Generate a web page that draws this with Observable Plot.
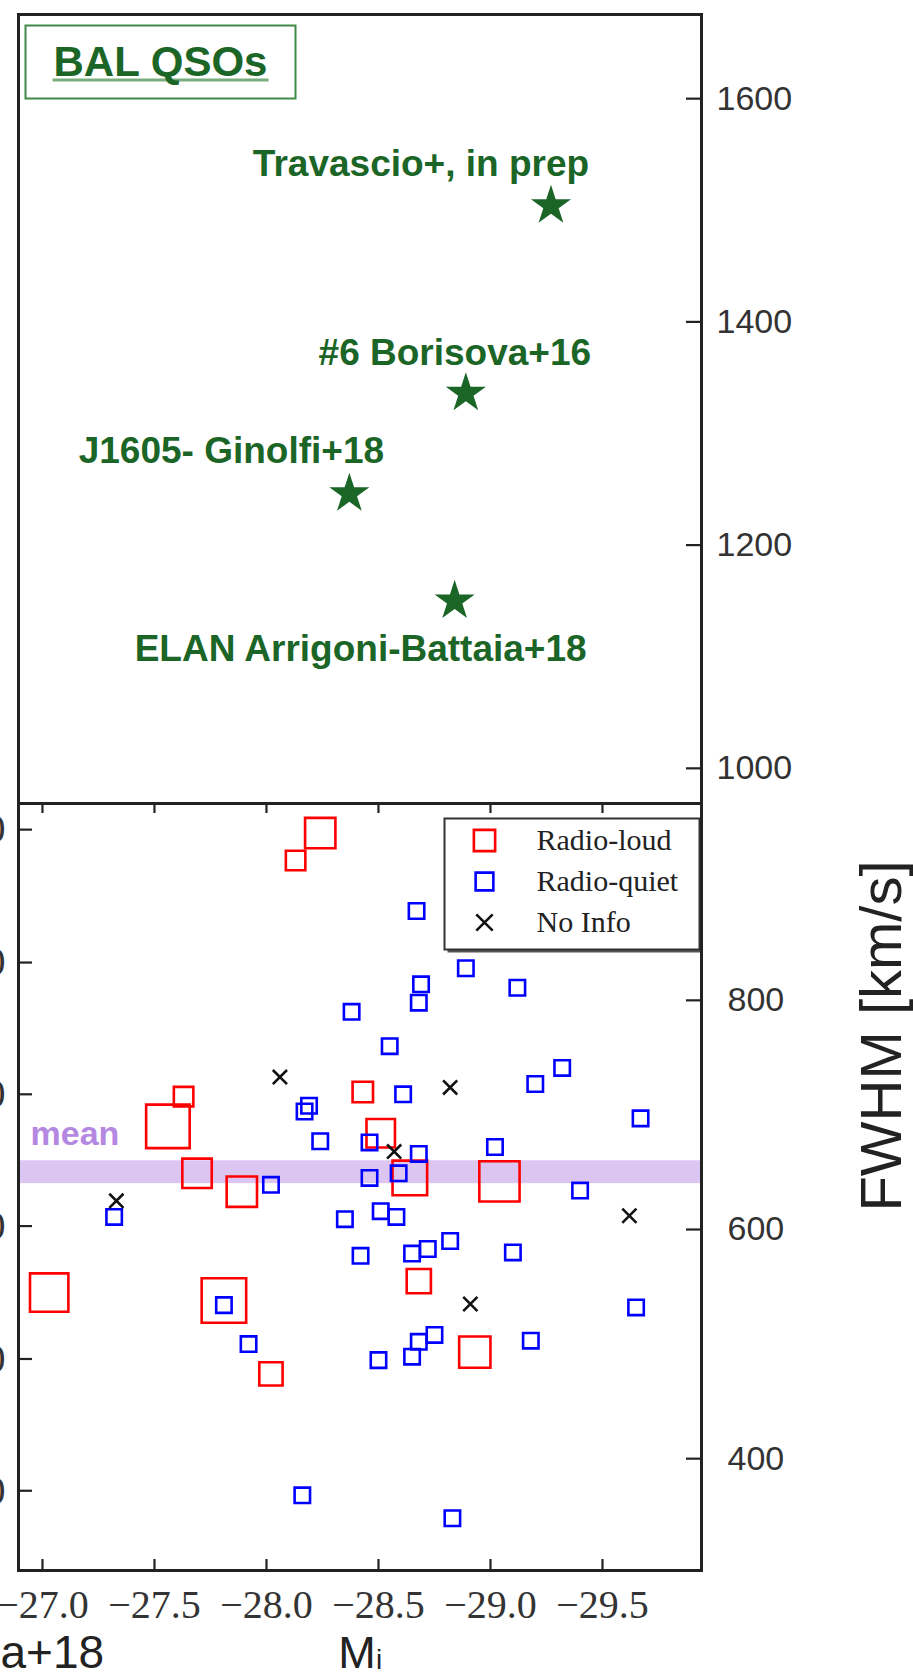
<!DOCTYPE html>
<html>
<head>
<meta charset="utf-8">
<script src="https://cdn.jsdelivr.net/npm/d3@7"></script>
<script src="https://cdn.jsdelivr.net/npm/@observablehq/plot@0.6"></script>
<style>
  html, body { margin: 0; padding: 0; background: #fff; }
  #chart svg { display: block; overflow: hidden; }
</style>
</head>
<body>
<div id="chart"></div>
<script>
// ---- BAL quasars with extended Lyα nebulae (top panel) ----
const balNames = ["Travascio+, in prep", "#6 Borisova+16", "J1605- Ginolfi+18", "ELAN Arrigoni-Battaia+18"];
const balMi = [-29.27, -28.89, -28.37, -28.84];
const balFWHM = [1504, 1336, 1246, 1150];

// ---- QSO sample (bottom panel) ----
// Radio-loud: absolute magnitude, nebula FWHM and relative radio power (marker scale)
const loudMi = [-28.24, -28.13, -27.63, -27.56, -28.43, -28.51, -27.69, -27.89, -28.64, -29.04, -27.03, -27.81, -28.68, -28.02, -28.93];
const loudFWHM = [946, 922, 716, 690, 720, 684, 649, 633, 645, 642, 545, 538, 555, 474, 493];
const radioPower = [0.70, 0.47, 0.47, 0.98, 0.49, 0.66, 0.68, 0.70, 0.79, 0.91, 0.87, 1.00, 0.57, 0.55, 0.72];

// Radio-quiet
const quietMi = [-28.67, -28.69, -28.68, -28.38, -28.55, -28.61, -28.19, -28.17, -28.24, -28.46,
                 -28.68, -28.46, -28.59, -28.02, -28.89, -29.12, -29.20, -29.32, -29.67, -29.02,
                 -29.40, -27.32, -28.35, -28.51, -28.58, -28.42, -28.65, -28.72, -28.82, -29.10,
                 -27.81, -27.92, -28.50, -28.65, -28.68, -28.75, -29.18, -29.65, -28.16, -28.83];
const quietFWHM = [878, 814, 798, 790, 760, 718, 708, 703, 677, 676,
                   666, 645, 649, 639, 828, 811, 727, 741, 697, 672,
                   634, 611, 609, 616, 611, 577, 579, 583, 590, 580,
                   534, 500, 486, 489, 502, 508, 503, 532, 368, 348];

// No radio information
const noInfoMi = [-28.06, -28.82, -28.57, -27.33, -29.62, -28.91];
const noInfoFWHM = [733, 724, 668, 625, 612, 535];

// Sample mean FWHM and its shaded band
const meanFWHM = 650;
const meanBand = [640, 660];

// Axes
const xDomain = [-26.893, -29.942];
const xTicks = [-27.0, -27.5, -28.0, -28.5, -29.0, -29.5];
const topDomain = [968.5, 1675.4];
const topTicks = [1000, 1200, 1400, 1600];
const bottomDomain = [302.4, 971.8];
const bottomTicks = [400, 600, 800];
// ticks of the neighbouring panel's axis, drawn on the left edge
const neighbourTicks = [949, 833, 718, 603, 487, 372];
const neighbourTickLabels = ["1000", "900", "800", "700", "600", "500"];

const legendItems = ["Radio-loud", "Radio-quiet", "No Info"];

// ---- tables built from the arrays ----
const bal = balNames.map((name, i) => ({name, Mi: balMi[i], FWHM: balFWHM[i]}));
const loud = loudMi.map((Mi, i) => ({Mi, FWHM: loudFWHM[i], power: radioPower[i]}));
const quiet = quietMi.map((Mi, i) => ({Mi, FWHM: quietFWHM[i]}));
const noInfo = noInfoMi.map((Mi, i) => ({Mi, FWHM: noInfoFWHM[i]}));
const neighbourLabel = new Map(neighbourTicks.map((t, i) => [t, neighbourTickLabels[i]]));

const W = 913, ML = 18, MR = 212;
const frameW = W - ML - MR;          // 683
const GREEN = "#1b6527";
const SANS = "Liberation Sans, Helvetica, Arial, sans-serif";
const SERIF = "Liberation Serif, Times New Roman, serif";
const AXIS = "#222";
const intFormat = d3.format("d");

// ---------------- top panel ----------------
const topH = 803, topMT = 14;

const topPanel = Plot.plot({
  width: W, height: topH,
  marginLeft: ML, marginRight: MR, marginTop: topMT, marginBottom: 0,
  style: {fontFamily: SANS, background: "white"},
  x: {domain: xDomain, axis: null},
  y: {domain: topDomain},
  marks: [
    // "BAL QSOs" box
    Plot.frame({stroke: "#3f8a47", strokeWidth: 2, fill: "white",
      insetLeft: 7, insetTop: 11, insetRight: 406, insetBottom: 705}),
    Plot.frame({fill: "#79ad7d", stroke: null,
      insetLeft: 34, insetRight: 433, insetTop: 64, insetBottom: 722}),
    Plot.text(["BAL QSOs"], {frameAnchor: "top-left", dx: 142, dy: 61,
      textAnchor: "middle", lineAnchor: "bottom", fontSize: 42, fontWeight: "bold", fill: GREEN}),

    Plot.dot(bal, {x: "Mi", y: "FWHM", symbol: "star", r: 12.6, fill: GREEN, stroke: null}),
    Plot.text(bal.slice(0, 1), {x: "Mi", y: "FWHM", text: "name", dx: -130, dy: -30,
      lineAnchor: "bottom", fontSize: 37, fontWeight: "bold", fill: GREEN}),
    Plot.text(bal.slice(1, 2), {x: "Mi", y: "FWHM", text: "name", dx: -11, dy: -28,
      lineAnchor: "bottom", fontSize: 37, fontWeight: "bold", fill: GREEN}),
    Plot.text(bal.slice(2, 3), {x: "Mi", y: "FWHM", text: "name", dx: -118, dy: -31,
      lineAnchor: "bottom", fontSize: 37, fontWeight: "bold", fill: GREEN}),
    Plot.text(bal.slice(3, 4), {x: "Mi", y: "FWHM", text: "name", dx: -94, dy: 60,
      lineAnchor: "bottom", fontSize: 37, fontWeight: "bold", fill: GREEN}),

    // right axis with inward ticks
    Plot.tickY(topTicks, {y: d => d, insetLeft: frameW - 15, stroke: AXIS, strokeWidth: 2.2}),
    Plot.axisY(topTicks, {anchor: "right", tickSize: 0, tickPadding: 15, label: null,
      tickFormat: intFormat, fontSize: 34, fontFamily: SANS, color: "#333"}),

    Plot.frame({stroke: AXIS, strokeWidth: 3})
  ]
});

// ---------------- bottom panel ----------------
const botH = 869, botMB = 102;
const botFrameH = botH - botMB;      // 767

const legendLabel = (item, dy) =>
  Plot.text([item], {frameAnchor: "top-left", text: d => d, dx: 518, dy,
    textAnchor: "start", lineAnchor: "middle", fontSize: 30, fontFamily: SERIF, fill: "#222"});

const bottomPanel = Plot.plot({
  width: W, height: botH,
  marginLeft: ML, marginRight: MR, marginTop: 0, marginBottom: botMB,
  style: {fontFamily: SANS, background: "white"},
  x: {domain: xDomain},
  y: {domain: bottomDomain},
  r: {type: "linear", domain: [0.47, 1], range: [11, 25.1]},
  marks: [
    // mean FWHM band
    Plot.rect([meanBand], {y1: d => d[0], y2: d => d[1], fill: "#dcc5f1"}),
    Plot.text(["mean"], {y: () => meanFWHM, frameAnchor: "left", textAnchor: "start",
      lineAnchor: "bottom", dx: 12, dy: -27, fontSize: 34, fontWeight: "bold", fill: "#b488e1"}),

    Plot.dot(loud, {x: "Mi", y: "FWHM", r: "power", symbol: "square",
      fill: "none", stroke: "#ff0000", strokeWidth: 2.6}),
    Plot.dot(quiet, {x: "Mi", y: "FWHM", r: 8.7, symbol: "square",
      fill: "none", stroke: "#0000ff", strokeWidth: 2.6}),
    Plot.dot(noInfo, {x: "Mi", y: "FWHM", r: 6.5, symbol: "times",
      stroke: "#111", strokeWidth: 2.6}),

    // x axis: inward ticks on both edges, labels below
    Plot.tickX(xTicks, {x: d => d, insetTop: botFrameH - 11, stroke: AXIS, strokeWidth: 2.2}),
    Plot.tickX(xTicks, {x: d => d, insetBottom: botFrameH - 10, stroke: AXIS, strokeWidth: 2.2}),
    Plot.axisX(xTicks, {anchor: "bottom", tickSize: 0, tickPadding: 19, label: null,
      tickFormat: d3.format(".1f"), fontSize: 40, fontFamily: SERIF, color: "#333"}),

    // right axis
    Plot.tickY(bottomTicks, {y: d => d, insetLeft: frameW - 15, stroke: AXIS, strokeWidth: 2.2}),
    Plot.axisY(bottomTicks, {anchor: "right", tickSize: 0, tickPadding: 26, label: null,
      tickFormat: intFormat, fontSize: 34, fontFamily: SANS, color: "#333"}),

    // left edge: ticks of the neighbouring panel
    Plot.tickY(neighbourTicks, {y: d => d, insetRight: frameW - 14, stroke: AXIS, strokeWidth: 2.2}),
    Plot.axisY(neighbourTicks, {anchor: "left", tickSize: 0, tickPadding: 13, label: null,
      tickFormat: d => neighbourLabel.get(d), fontSize: 40, fontFamily: SERIF, color: "#333"}),

    // legend
    Plot.frame({fill: "#555", stroke: null,
      insetLeft: 429, insetRight: 0, insetTop: 18, insetBottom: 618}),
    Plot.frame({fill: "white", stroke: "#333", strokeWidth: 2,
      insetLeft: 426, insetRight: 2, insetTop: 15, insetBottom: 621}),
    Plot.dot([legendItems[0]], {frameAnchor: "top-left", dx: 466, dy: 37, symbol: "square",
      r: 12, fill: "none", stroke: "#ff0000", strokeWidth: 2.6}),
    Plot.dot([legendItems[1]], {frameAnchor: "top-left", dx: 466, dy: 78, symbol: "square",
      r: 10, fill: "none", stroke: "#0000ff", strokeWidth: 2.6}),
    Plot.dot([legendItems[2]], {frameAnchor: "top-left", dx: 466, dy: 119, symbol: "times",
      r: 7.5, stroke: "#111", strokeWidth: 2.6}),
    legendLabel(legendItems[0], 37),
    legendLabel(legendItems[1], 78),
    legendLabel(legendItems[2], 119),

    // axis titles
    Plot.text(["FWHM [km/s]"], {frameAnchor: "right", rotate: -90, dx: 199, dy: -151,
      textAnchor: "middle", lineAnchor: "bottom", fontSize: 58, fill: "#222"}),
    Plot.text(["M"], {frameAnchor: "bottom", dx: -3, dy: 97, textAnchor: "middle",
      lineAnchor: "bottom", fontSize: 45, fill: "#222"}),
    Plot.text(["i"], {frameAnchor: "bottom", dx: 19, dy: 98, textAnchor: "middle",
      lineAnchor: "bottom", fontSize: 28, fill: "#222"}),
    Plot.text(["a+18"], {frameAnchor: "bottom-left", dx: -18, dy: 97,
      textAnchor: "start", lineAnchor: "bottom", fontSize: 46, fill: "#222"}),

    Plot.frame({stroke: AXIS, strokeWidth: 3})
  ]
});

document.getElementById("chart").append(topPanel, bottomPanel);
</script>
</body>
</html>
